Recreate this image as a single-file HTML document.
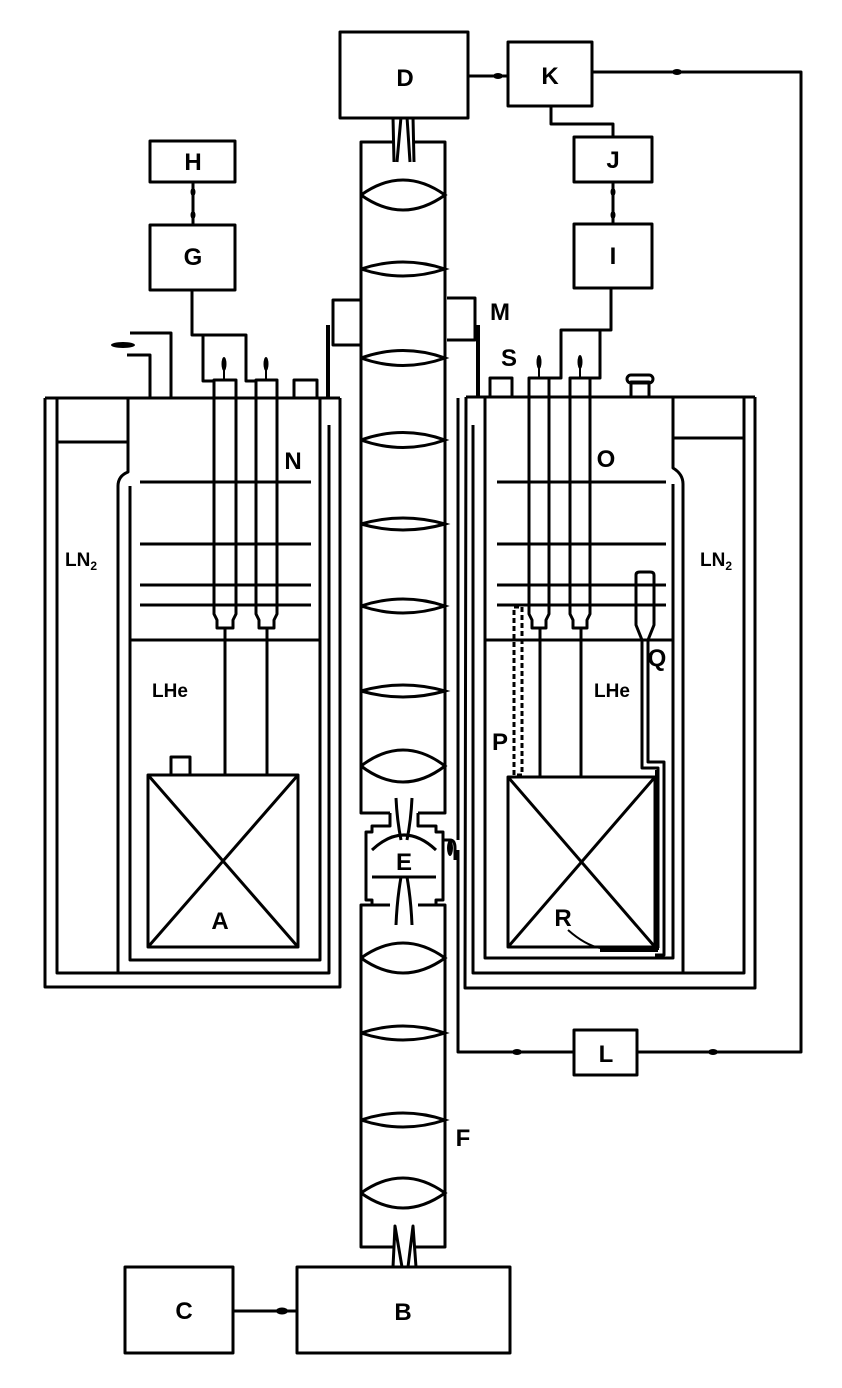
<!DOCTYPE html>
<html><head><meta charset="utf-8"><style>
html,body{margin:0;padding:0;background:#fff}
svg{display:block}
text{font-family:"Liberation Sans",sans-serif;font-weight:bold;fill:#000}
</style></head><body>
<svg width="842" height="1388" viewBox="0 0 842 1388" xmlns="http://www.w3.org/2000/svg">
<g fill="none" stroke="#000" stroke-width="3" stroke-linejoin="round">
<rect x="340" y="32" width="128" height="86"/>
<rect x="508" y="42" width="84" height="64"/>
<rect x="574" y="137" width="78" height="45"/>
<rect x="574" y="224" width="78" height="64"/>
<rect x="150" y="141" width="85" height="41"/>
<rect x="150" y="225" width="85" height="65"/>
<rect x="125" y="1267" width="108" height="86"/>
<rect x="297" y="1267" width="213" height="86"/>
<rect x="574" y="1030" width="63" height="45"/>
<line x1="468" y1="76" x2="508" y2="76"/>
<polyline points="592,72 801,72 801,1052 637,1052"/>
<polyline points="551,106 551,124 613,124 613,137"/>
<line x1="613" y1="182" x2="613" y2="224"/>
<line x1="193" y1="182" x2="193" y2="225"/>
<line x1="233" y1="1311" x2="297" y2="1311"/>
<polyline points="574,1052 458,1052 458,850"/>
<polyline points="192,290 192,335 246,335 246,381 256,381"/>
<polyline points="203,335 203,381 214,381"/>
<polyline points="611,288 611,330 561,330 561,378 549,378"/>
<polyline points="600,330 600,378 590,378"/>
<polyline points="130,333 171,333 171,398"/>
<polyline points="127,355 150,355 150,398"/>

<polyline points="45,398 340,398"/>
<polyline points="45,398 45,987 340,987 340,398"/>
<polyline points="57,398 57,973 329,973 329,425"/>
<line x1="57" y1="442" x2="128" y2="442"/>
<path d="M128,398 L128,472 Q118,476 118,486 L118,973"/>
<polyline points="130,486 130,960 320,960 320,398"/>
<line x1="130" y1="640" x2="320" y2="640"/>
<line x1="140" y1="482" x2="311" y2="482"/>
<line x1="140" y1="544" x2="311" y2="544"/>
<line x1="140" y1="585" x2="311" y2="585"/>
<line x1="140" y1="605" x2="311" y2="605"/>
<path d="M214,398 L214,380 L236,380 L236,614 L233,620 L233,628 L217,628 L217,620 L214,614 Z"/>
<path d="M256,398 L256,380 L277,380 L277,614 L274,620 L274,628 L259,628 L259,620 L256,614 Z"/>
<line x1="225" y1="628" x2="225" y2="775"/>
<line x1="267" y1="628" x2="267" y2="775"/>
<rect x="294" y="380" width="23" height="18"/>
<rect x="148" y="775" width="150" height="172"/>
<line x1="148" y1="775" x2="298" y2="947"/>
<line x1="298" y1="775" x2="148" y2="947"/>
<rect x="171" y="757" width="19" height="18"/>

<polyline points="466,397 755,397"/>
<polyline points="466,397 465,988 755,988 755,397"/>
<polyline points="473,425 473,973 744,973 744,397"/>
<line x1="673" y1="438" x2="744" y2="438"/>
<path d="M673,397 L673,468 Q683,474 683,484 L683,973"/>
<polyline points="485,397 485,958 673,958 673,484"/>
<line x1="485" y1="640" x2="673" y2="640"/>
<line x1="497" y1="482" x2="666" y2="482"/>
<line x1="497" y1="544" x2="666" y2="544"/>
<line x1="497" y1="585" x2="666" y2="585"/>
<line x1="497" y1="605" x2="666" y2="605"/>
<path d="M529,397 L529,378 L549,378 L549,614 L546,620 L546,628 L532,628 L532,620 L529,614 Z"/>
<path d="M570,397 L570,378 L590,378 L590,614 L587,620 L587,628 L573,628 L573,620 L570,614 Z"/>
<line x1="540" y1="628" x2="540" y2="777"/>
<line x1="581" y1="628" x2="581" y2="777"/>
<rect x="490" y="378" width="22" height="19"/>
<rect x="631" y="382" width="18" height="15"/>
<rect x="627" y="375" width="26" height="8" rx="4"/>
<rect x="508" y="777" width="147" height="170"/>
<line x1="508" y1="777" x2="655" y2="947"/>
<line x1="655" y1="777" x2="508" y2="947"/>
<rect x="514" y="607" width="8" height="168" stroke-dasharray="5,3"/>
<path d="M636,575 Q636,572 640,572 L650,572 Q654,572 654,575 L654,625 L648,640 L648,762 L664,762 L664,955 L655,955"/>
<path d="M636,575 L636,625 L642,640 L642,768 L658,768 L658,948"/>
<path d="M568,930 Q585,945 600,948" stroke-width="2"/>
<polyline points="361,300 333,300 333,345 361,345"/>
<polyline points="447,298 475,298 475,340 447,340"/>

<polyline points="393,142 361,142 361,813 390,813"/>
<polyline points="415,142 445,142 445,813 418,813"/>
<path d="M393,117 L394,162 M401,117 L397,162 M407,117 L410,162 M413,117 L414,162"/>
<path d="M390,813 L390,826 L372,826 L372,832 L366,832 L366,900 L372,900 L372,905 L390,905"/>
<path d="M418,813 L418,826 L436,826 L436,832 L443,832 L443,900 L436,900 L436,905 L418,905"/>
<path d="M372,850 Q404,820 436,850"/>
<path d="M372,877 L436,877"/>
<path d="M396,798 Q397,820 401,840 M412,798 Q411,820 407,840"/>
<path d="M401,877 Q397,900 396,925 M407,877 Q411,900 412,925"/>
<path d="M443,840 L450,840 Q455,840 455,848 L455,860"/>
<polyline points="390,905 361,905 361,1247 393,1247"/>
<polyline points="418,905 445,905 445,1247 415,1247"/>
<path d="M393,1267 L395,1226 L402,1267 M408,1267 L413,1226 L416,1267"/>
<line x1="328" y1="325" x2="328" y2="398" stroke-width="4"/>
<line x1="478" y1="325" x2="478" y2="397" stroke-width="4"/>
<line x1="458" y1="398" x2="458" y2="840"/>
</g>
<g fill="none" stroke="#000" stroke-width="3">
<path d="M361,195 Q403,165 445,195 Q403,225 361,195"/>
<path d="M361,269 Q403,255 445,269 Q403,283 361,269"/>
<path d="M361,358 Q403,343 445,358 Q403,373 361,358"/>
<path d="M361,440 Q403,425 445,440 Q403,455 361,440"/>
<path d="M361,524 Q403,512 445,524 Q403,536 361,524"/>
<path d="M361,606 Q403,592 445,606 Q403,620 361,606"/>
<path d="M361,691 Q403,679 445,691 Q403,703 361,691"/>
<path d="M361,766 Q403,734 445,766 Q403,798 361,766"/>
<path d="M361,958 Q403,928 445,958 Q403,988 361,958"/>
<path d="M361,1033 Q403,1019 445,1033 Q403,1047 361,1033"/>
<path d="M361,1120 Q403,1106 445,1120 Q403,1134 361,1120"/>
<path d="M361,1193 Q403,1163 445,1193 Q403,1223 361,1193"/>
</g>
<g fill="#000">
<ellipse cx="498" cy="76" rx="5" ry="3"/>
<ellipse cx="677" cy="72" rx="5" ry="3"/>
<ellipse cx="613" cy="192" rx="2.5" ry="4"/>
<ellipse cx="613" cy="215" rx="2.5" ry="4"/>
<ellipse cx="193" cy="192" rx="2.5" ry="4"/>
<ellipse cx="193" cy="215" rx="2.5" ry="4"/>
<ellipse cx="282" cy="1311" rx="6" ry="3.5"/>
<ellipse cx="517" cy="1052" rx="5" ry="3"/>
<ellipse cx="713" cy="1052" rx="5" ry="3"/>
<ellipse cx="123" cy="345" rx="12" ry="3"/>
<ellipse cx="224" cy="364" rx="2.5" ry="7"/><rect x="223" y="364" width="2" height="16"/>
<ellipse cx="266" cy="364" rx="2.5" ry="7"/><rect x="265" y="364" width="2" height="16"/>
<ellipse cx="539" cy="362" rx="2.5" ry="7"/><rect x="538" y="362" width="2" height="16"/>
<ellipse cx="580" cy="362" rx="2.5" ry="7"/><rect x="579" y="362" width="2" height="16"/>
<rect x="600" y="946" width="58" height="6"/>
<rect x="655" y="770" width="4" height="180"/>
<ellipse cx="450" cy="848" rx="3" ry="8"/>
</g>
<g font-size="24" text-anchor="middle">
<text x="405" y="86">D</text>
<text x="550" y="84">K</text>
<text x="613" y="168">J</text>
<text x="613" y="264">I</text>
<text x="193" y="170">H</text>
<text x="193" y="265">G</text>
<text x="500" y="320">M</text>
<text x="509" y="366">S</text>
<text x="293" y="469">N</text>
<text x="606" y="467">O</text>
<text x="220" y="929">A</text>
<text x="404" y="870">E</text>
<text x="500" y="750">P</text>
<text x="657" y="666">Q</text>
<text x="563" y="926">R</text>
<text x="606" y="1062">L</text>
<text x="463" y="1146">F</text>
<text x="403" y="1320">B</text>
<text x="184" y="1319">C</text>
</g>
<g font-size="19">
<text x="65" y="566">LN<tspan font-size="12" dy="4">2</tspan></text>
<text x="700" y="566">LN<tspan font-size="12" dy="4">2</tspan></text>
<text x="152" y="697">LHe</text>
<text x="594" y="697">LHe</text>
</g>
</svg>
</body></html>
